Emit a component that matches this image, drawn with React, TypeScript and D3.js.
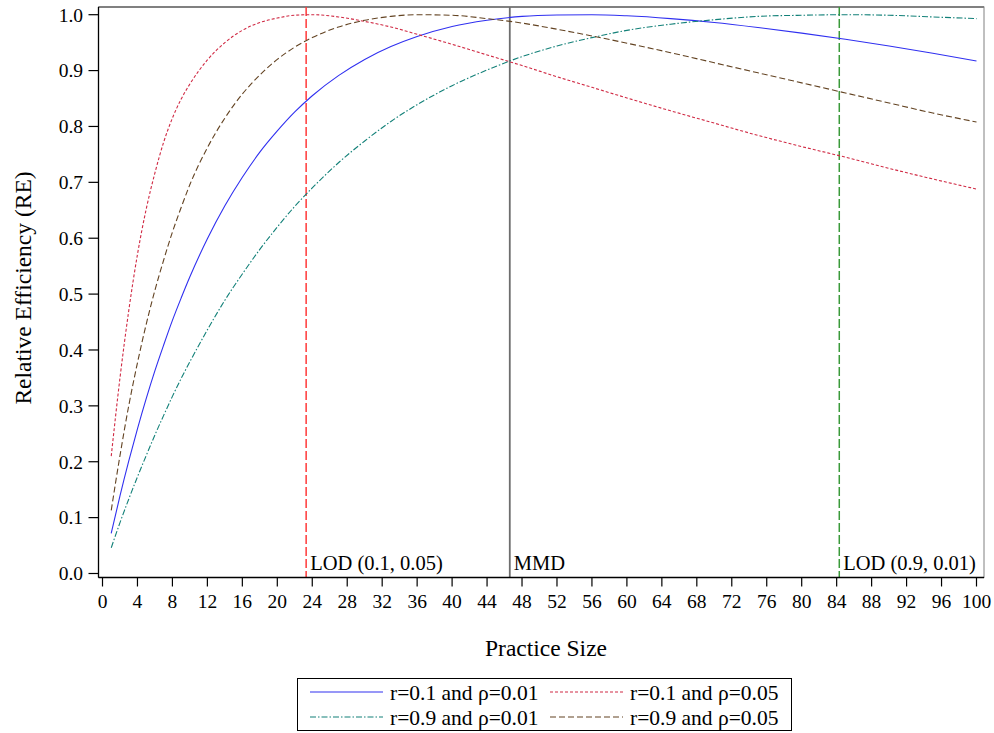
import React from 'react'
import * as d3 from 'd3'

const sizes = [1, 2, 3, 4, 5, 6, 7, 8, 9, 10, 12, 14, 16, 18, 20, 22, 24, 27, 30, 33, 36, 40, 44, 48, 52, 56, 60, 65, 70, 75, 80, 85, 90, 95, 100]

const reBlue = [0.072, 0.139, 0.201, 0.259, 0.313, 0.363, 0.409, 0.453, 0.493, 0.531, 0.599, 0.658, 0.709, 0.754, 0.792, 0.826, 0.855, 0.891, 0.920, 0.943, 0.961, 0.979, 0.990, 0.997, 0.9995, 1.0, 0.998, 0.993, 0.986, 0.977, 0.967, 0.956, 0.944, 0.931, 0.917]
const reRed = [0.210, 0.350, 0.470, 0.571, 0.652, 0.717, 0.772, 0.815, 0.849, 0.876, 0.919, 0.950, 0.972, 0.986, 0.994, 0.999, 1.0, 0.996, 0.988, 0.978, 0.965, 0.947, 0.928, 0.909, 0.889, 0.870, 0.851, 0.828, 0.806, 0.784, 0.764, 0.745, 0.725, 0.706, 0.688]
const reTeal = [0.046, 0.091, 0.133, 0.173, 0.211, 0.248, 0.283, 0.317, 0.349, 0.379, 0.436, 0.489, 0.536, 0.580, 0.620, 0.657, 0.690, 0.735, 0.774, 0.809, 0.839, 0.873, 0.901, 0.925, 0.944, 0.959, 0.972, 0.983, 0.991, 0.997, 0.999, 1.0, 0.999, 0.996, 0.993]
const reBrown = [0.113, 0.211, 0.300, 0.377, 0.446, 0.507, 0.561, 0.611, 0.655, 0.696, 0.762, 0.815, 0.858, 0.892, 0.920, 0.942, 0.959, 0.978, 0.990, 0.997, 1.0, 0.999, 0.993, 0.985, 0.974, 0.962, 0.949, 0.932, 0.914, 0.896, 0.878, 0.860, 0.842, 0.824, 0.808]

const series = [
  { label: 'r=0.1 and \u03c1=0.01', values: reBlue, color: '#3030f0', dash: 'none' },
  { label: 'r=0.1 and \u03c1=0.05', values: reRed, color: '#d02a44', dash: '3,2' },
  { label: 'r=0.9 and \u03c1=0.01', values: reTeal, color: '#128078', dash: '6,2,1.5,2' },
  { label: 'r=0.9 and \u03c1=0.05', values: reBrown, color: '#634322', dash: '6,3' },
]

const refLines = [
  { at: 23.3, label: 'LOD (0.1, 0.05)', color: '#ff3a3a', dash: '9,3', width: 1.5 },
  { at: 46.6, label: 'MMD', color: '#6e6e6e', dash: 'none', width: 1.8 },
  { at: 84.3, label: 'LOD (0.9, 0.01)', color: '#3a9a3a', dash: '9,3', width: 1.5 },
]

const xTicks = d3.range(0, 101, 4)
const yTicks = d3.range(0, 11).map(d => d / 10)

const W = 994
const H = 733
const left = 98.5, right = 984, top = 7, bottom = 577.5
const font = "'Liberation Serif', 'Times New Roman', serif"

export default function App() {
  const x = d3.scaleLinear().domain([0, 100]).range([102.5, 976.5])
  const y = d3.scaleLinear().domain([0, 1]).range([573.5, 14.7])

  const line = d3.line<number>()
    .x((_, i) => x(sizes[i]))
    .y(d => y(d))
    .curve(d3.curveMonotoneX)

  return (
    <div style={{ position: 'absolute', left: 0, top: 0 }}>
      <svg width={W} height={H} style={{ display: 'block', background: '#fff', fontFamily: font }}>
        <rect x={left} y={top} width={right - left} height={bottom - top} fill="#fff" stroke="#808080" strokeWidth={1} />
        <line x1={left} x2={right} y1={top} y2={top} stroke="#808080" strokeWidth={2} />

        {refLines.map(r => (
          <g key={r.label}>
            <line x1={x(r.at)} x2={x(r.at)} y1={top} y2={bottom} stroke={r.color}
              strokeWidth={r.width} strokeDasharray={r.dash} />
            <text x={x(r.at) + 4} y={570} fontSize={20.5} fill="#000">{r.label}</text>
          </g>
        ))}

        {series.map(s => (
          <path key={s.label} d={line(s.values) || ''} fill="none" stroke={s.color}
            strokeWidth={1.1} strokeDasharray={s.dash} />
        ))}

        {/* axes */}
        <line x1={left} x2={left} y1={top} y2={bottom} stroke="#000" strokeWidth={1.3} />
        <line x1={left} x2={right} y1={bottom} y2={bottom} stroke="#000" strokeWidth={1.3} />

        {yTicks.map(t => (
          <g key={t}>
            <line x1={left - 10} x2={left} y1={y(t)} y2={y(t)} stroke="#000" strokeWidth={1.2} />
            <text x={83} y={y(t)} dy="0.35em" textAnchor="end" fontSize={19.5}>{t.toFixed(1)}</text>
          </g>
        ))}

        {xTicks.map(t => (
          <g key={t}>
            <line x1={x(t)} x2={x(t)} y1={bottom} y2={bottom + 9} stroke="#000" strokeWidth={1.2} />
            <text x={x(t)} y={608} textAnchor="middle" fontSize={19.5}>{t}</text>
          </g>
        ))}

        <text x={546} y={656} textAnchor="middle" fontSize={23.5}>Practice Size</text>
        <text transform="translate(31,288) rotate(-90)" textAnchor="middle" fontSize={23.5}>Relative Efficiency (RE)</text>

        {/* legend */}
        <rect x={297.5} y={678.5} width={494} height={52} fill="#fff" stroke="#000" strokeWidth={1} />
        {series.map((s, i) => {
          const col = i % 2
          const row = Math.floor(i / 2)
          const lx = col === 0 ? 310 : 550
          const ly = 692 + row * 25
          return (
            <g key={s.label}>
              <line x1={lx} x2={lx + 73} y1={ly} y2={ly} stroke={s.color} strokeWidth={1.1} strokeDasharray={s.dash} />
              <text x={lx + 80} y={ly} dy="0.35em" fontSize={21.5}>{s.label}</text>
            </g>
          )
        })}
      </svg>
    </div>
  )
}
